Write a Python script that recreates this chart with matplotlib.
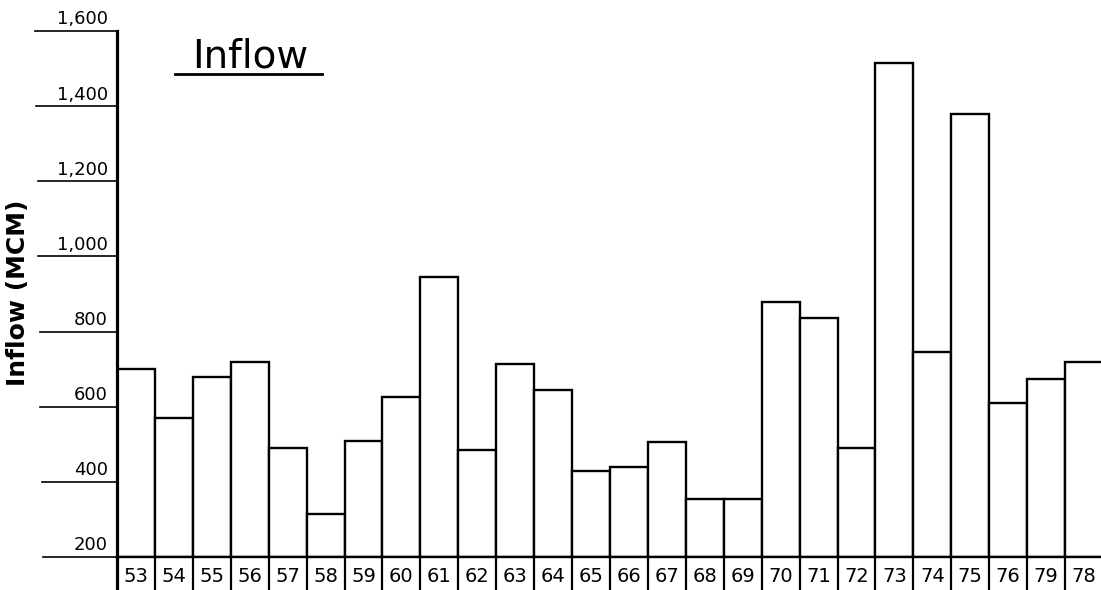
import matplotlib
matplotlib.use("Agg")
import matplotlib.pyplot as plt
import matplotlib.transforms as mtransforms

# Annual inflow (MCM) by water year
years = ["53", "54", "55", "56", "57", "58", "59", "60", "61", "62", "63", "64", "65",
         "66", "67", "68", "69", "70", "71", "72", "73", "74", "75", "76", "79", "78"]
inflow = [700, 570, 680, 720, 490, 315, 510, 625, 945, 485, 715, 645, 430,
          440, 505, 355, 355, 880, 835, 490, 1515, 745, 1380, 610, 675, 720]
y_ticks = [200, 400, 600, 800, 1000, 1200, 1400, 1600]
y_tick_labels = ["200", "400", "600", "800", "1,000", "1,200", "1,400", "1,600"]

W, H = 1101, 590
fig = plt.figure(figsize=(W / 100, H / 100), dpi=100, facecolor="white")

# axes frame in pixel units
x0, x1 = 117, 1103
yb, yt = 557, 31
ax = fig.add_axes([x0 / W, (H - yb) / H, (x1 - x0) / W, (yb - yt) / H])
ax.set_xlim(0, len(years))
ax.set_ylim(200, 1600)
ax.set_facecolor("white")

base = 200
xs = list(range(len(years)))
ax.bar([x + 0.5 for x in xs], [v - base for v in inflow], bottom=base, width=1.0,
       facecolor="white", edgecolor="black", linewidth=1.7, zorder=2)

for s in ["top", "right", "bottom"]:
    ax.spines[s].set_visible(False)
ax.spines["left"].set_linewidth(2.3)
ax.set_xticks([])
ax.set_yticks([])

ax_h = yb - yt
ax_w = x1 - x0
blend = mtransforms.blended_transform_factory(ax.transAxes, ax.transData)

# horizontal tick rules reaching out to the left, labels sitting on them
tick_left = {200: 43, 400: 42, 600: 40, 800: 40, 1000: 38, 1200: 38, 1400: 36, 1600: 35}
for val, lab in zip(y_ticks, y_tick_labels):
    xl = (tick_left[val] - x0) / ax_w
    ax.plot([xl, 0], [val, val], transform=blend, color="black", lw=1.2,
            clip_on=False, zorder=3)
    ax.text((108 - x0) / ax_w, val + 7, lab, transform=blend, ha="right", va="bottom",
            fontsize=13, color="black", clip_on=False)

# baseline across the whole chart
ax.plot([0, 1], [base, base], transform=blend, color="black", lw=1.7,
        clip_on=False, zorder=3)

# label row beneath the baseline: divided boxes with the year labels
row_bottom = -(H - yb) / ax_h
lab_y = -(576 - yb) / ax_h
xform = mtransforms.blended_transform_factory(ax.transData, ax.transAxes)
for i in range(len(years) + 1):
    ax.plot([i, i], [0, row_bottom - 0.01], transform=xform, color="black",
            lw=2.3 if i == 0 else 1.6, clip_on=False, zorder=3)
for i, yr in enumerate(years):
    ax.text(i + 0.5, lab_y, yr, transform=xform, ha="center", va="center",
            fontsize=14, color="black", clip_on=False)

# axis title
fig.text(18 / W, 1 - 293 / H, "Inflow (MCM)", rotation=90, ha="center", va="center",
         fontsize=18, fontweight="bold", color="black")

# chart heading, underlined
fig.text(250 / W, 1 - 67 / H, "Inflow", ha="center", va="baseline",
         fontsize=28, color="black")
fig.add_artist(plt.Line2D([175 / W, 322 / W], [1 - 74 / H, 1 - 74 / H],
                          transform=fig.transFigure, color="black", lw=2.0))

fig.savefig("out.png", dpi=100, facecolor="white")
